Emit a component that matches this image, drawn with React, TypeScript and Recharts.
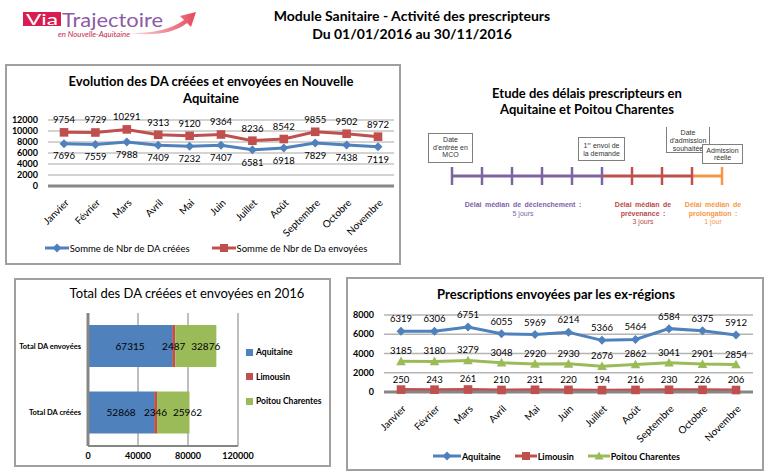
import React from 'react';
import { LineChart, Line, XAxis, YAxis, CartesianGrid, Legend, LabelList, BarChart, Bar } from 'recharts';

const FONT = 'Lato, "Open Sans", sans-serif';
const ARIAL = '"Liberation Sans", Arial, sans-serif';
const BLUE = '#4F81BD';
const RED = '#C0504D';
const GREEN = '#9BBB59';
const PURPLE = '#8064A2';
const ORANGE = '#F79646';

// ---------- data ----------
const months = ['Janvier', 'Février', 'Mars', 'Avril', 'Mai', 'Juin', 'Juillet', 'Août', 'Septembre', 'Octobre', 'Novembre'];
const daCreees = [7696, 7559, 7988, 7409, 7232, 7407, 6581, 6918, 7829, 7438, 7119];
const daEnvoyees = [9754, 9729, 10291, 9313, 9120, 9364, 8236, 8542, 9855, 9502, 8972];
const evolutionTicks = [0, 2000, 4000, 6000, 8000, 10000, 12000];

const totalCategories = ['Total DA envoyées', 'Total DA créées'];
const totalAquitaine = [67315, 52868];
const totalLimousin = [2487, 2346];
const totalPoitou = [32876, 25962];
const totalTicks = [0, 40000, 80000, 120000];

const prescAquitaine = [6319, 6306, 6751, 6055, 5969, 6214, 5366, 5464, 6584, 6375, 5912];
const prescLimousin = [250, 243, 261, 210, 231, 220, 194, 216, 230, 226, 206];
const prescPoitou = [3185, 3180, 3279, 3048, 2920, 2930, 2676, 2862, 3041, 2901, 2854];
const prescTicks = [0, 2000, 4000, 6000, 8000];

const phaseDays = [5, 3, 1]; // déclenchement, prévenance, prolongation

// ---------- tables ----------
const evolutionData = months.map((m, i) => ({ month: m, creees: daCreees[i], envoyees: daEnvoyees[i] }));
const totalData = totalCategories.map((c, i) => ({ cat: c, aquitaine: totalAquitaine[i], limousin: totalLimousin[i], poitou: totalPoitou[i] }));
const prescData = months.map((m, i) => ({ month: m, aquitaine: prescAquitaine[i], limousin: prescLimousin[i], poitou: prescPoitou[i] }));
const b1 = phaseDays[0];
const b2 = phaseDays[0] + phaseDays[1];
const b3 = b2 + phaseDays[2];
const timelineData = Array.from({ length: b3 + 1 }, (_, d) => ({
  day: d,
  p1: d <= b1 ? 1 : null,
  p2: d >= b1 && d <= b2 ? 1 : null,
  p3: d >= b2 ? 1 : null,
}));

// ---------- markers ----------
const Diamond = ({ cx, cy, fill, s = 4.5 }: any) =>
  cx == null ? null : <path d={`M${cx},${cy - s}L${cx + s},${cy}L${cx},${cy + s}L${cx - s},${cy}Z`} fill={fill} />;
const Square = ({ cx, cy, fill, s = 4.2 }: any) =>
  cx == null ? null : <rect x={cx - s} y={cy - s} width={2 * s} height={2 * s} fill={fill} />;
const Triangle = ({ cx, cy, fill, s = 4.5 }: any) =>
  cx == null ? null : <path d={`M${cx},${cy - s}L${cx + s},${cy + s * 0.8}L${cx - s},${cy + s * 0.8}Z`} fill={fill} />;

const LegendIcon = ({ color, shape, w = 24 }: any) => {
  const c = w / 2;
  return (
    <svg width={w} height={10} style={{ display: 'block' }}>
      <line x1={0} y1={5} x2={w} y2={5} stroke={color} strokeWidth={3} />
      {shape === 'diamond' && <Diamond cx={c} cy={5} fill={color} s={4.5} />}
      {shape === 'square' && <Square cx={c} cy={5} fill={color} s={4} />}
      {shape === 'triangle' && <Triangle cx={c} cy={5} fill={color} s={4.5} />}
    </svg>
  );
};

const AngledTick = ({ x, y, payload }: any) => (
  <g transform={`translate(${x + 3},${y + 7})`}>
    <text x={0} y={0} dy="0.35em" textAnchor="end" transform="rotate(-45)" fontSize={10} fill="#000" fontFamily={FONT}>
      {payload.value}
    </text>
  </g>
);

const CatTick = ({ x, y, payload }: any) => (
  <text x={x} y={y} dy="0.35em" textAnchor="end" fontSize={7.5} fontWeight={700} fill="#000" fontFamily={FONT}>
    {payload.value}
  </text>
);

const labelStyle = { fontSize: 9.5, fill: '#000', fontFamily: FONT };
const yTickStyle = { fontSize: 9, fontWeight: 700, fill: '#000', fontFamily: FONT };

const boxStyle = (l: number, t: number, w: number, h: number): React.CSSProperties => ({
  position: 'absolute', left: l, top: t, width: w, height: h,
  border: '2px solid #A0A0A0', boxSizing: 'border-box', pointerEvents: 'none',
});

const abs = (l: number, t: number): React.CSSProperties => ({ position: 'absolute', left: l, top: t });

function EvolutionChart() {
  const legend = () => (
    <div style={{ display: 'flex', justifyContent: 'center', alignItems: 'center', height: 20, fontFamily: FONT, fontSize: 9.5, color: '#000' }}>
      <LegendIcon color={BLUE} shape="diamond" />
      <span style={{ marginLeft: 1, marginRight: 22 }}>Somme de Nbr de DA créées</span>
      <LegendIcon color={RED} shape="square" />
      <span style={{ marginLeft: 1 }}>Somme de Nbr de Da envoyées</span>
    </div>
  );
  return (
    <div style={abs(6, 65)}>
      <LineChart width={394} height={199} data={evolutionData} margin={{ top: 55, right: 6, left: 12, bottom: 6 }}>
        <CartesianGrid vertical={false} stroke="#C4C4C4" strokeWidth={1.5} />
        <XAxis dataKey="month" interval={0} padding={{ left: 16, right: 16 }} tickLine={false} axisLine={{ stroke: '#868686', strokeWidth: 3 }} height={52} tick={<AngledTick />} />
        <YAxis domain={[0, 12000]} ticks={evolutionTicks} interval={0} width={30} tickLine={false} axisLine={false} tickSize={0} tickMargin={10} tick={yTickStyle} />
        <Legend verticalAlign="bottom" height={20} content={legend} />
        <Line dataKey="envoyees" stroke={RED} strokeWidth={3} isAnimationActive={false}
          dot={(p: any) => <Square key={`e${p.index}`} cx={p.cx} cy={p.cy} fill={RED} s={4.3} />}>
          <LabelList dataKey="envoyees" position="top" offset={9} {...labelStyle} />
        </Line>
        <Line dataKey="creees" stroke={BLUE} strokeWidth={3} isAnimationActive={false}
          dot={(p: any) => <Diamond key={`c${p.index}`} cx={p.cx} cy={p.cy} fill={BLUE} s={4.5} />}>
          <LabelList dataKey="creees" position="bottom" offset={9} {...labelStyle} />
        </Line>
      </LineChart>
    </div>
  );
}

function TotalChart() {
  const items = [
    { name: 'Aquitaine', color: BLUE },
    { name: 'Limousin', color: RED },
    { name: 'Poitou Charentes', color: GREEN },
  ];
  const legend = () => (
    <div style={{ width: 86, height: 81.5, paddingTop: 8, paddingLeft: 8, boxSizing: 'border-box', fontFamily: FONT, fontSize: 8.5, fontWeight: 700, color: '#000' }}>
      {items.map((it) => (
        <div key={it.name} style={{ height: 24.5, display: 'flex', alignItems: 'center' }}>
          <span style={{ width: 7, height: 7, background: it.color, display: 'inline-block', marginRight: 3 }} />
          <span>{it.name}</span>
        </div>
      ))}
    </div>
  );
  const inLabel = { fontSize: 10, fill: '#000', fontFamily: FONT };
  return (
    <div style={abs(15, 279)}>
      <BarChart layout="vertical" width={315} height={187} data={totalData} margin={{ top: 34, right: 6, left: 3, bottom: 0 }}>
        <CartesianGrid horizontal={false} stroke="#A8A8A8" strokeWidth={1.5} />
        <XAxis type="number" domain={[0, 120000]} ticks={totalTicks} interval={0} height={20} tickLine={false} axisLine={{ stroke: '#868686', strokeWidth: 2 }} tickSize={0} tickMargin={7} tick={yTickStyle} />
        <YAxis type="category" dataKey="cat" width={70} tickLine={false} axisLine={{ stroke: '#868686', strokeWidth: 3 }} tickSize={0} tickMargin={7} tick={<CatTick />} />
        <Legend layout="vertical" align="right" verticalAlign="middle" width={86} content={legend} />
        <Bar dataKey="aquitaine" stackId="a" fill={BLUE} barSize={42} isAnimationActive={false}>
          <LabelList dataKey="aquitaine" position="center" {...inLabel} />
        </Bar>
        <Bar dataKey="limousin" stackId="a" fill={RED} barSize={42} isAnimationActive={false}>
          <LabelList dataKey="limousin" position="center" {...inLabel} />
        </Bar>
        <Bar dataKey="poitou" stackId="a" fill={GREEN} barSize={42} isAnimationActive={false}>
          <LabelList dataKey="poitou" position="insideLeft" offset={16} {...inLabel} />
        </Bar>
      </BarChart>
    </div>
  );
}

function PrescChart() {
  const legend = () => (
    <div style={{ display: 'flex', justifyContent: 'center', alignItems: 'center', height: 16, fontFamily: FONT, fontSize: 9, fontWeight: 700, color: '#000', paddingLeft: 6 }}>
      <LegendIcon color={BLUE} shape="diamond" w={28} />
      <span style={{ marginLeft: 1, marginRight: 14 }}>Aquitaine</span>
      <LegendIcon color={RED} shape="square" w={22} />
      <span style={{ marginLeft: 1, marginRight: 14 }}>Limousin</span>
      <LegendIcon color={GREEN} shape="triangle" w={22} />
      <span style={{ marginLeft: 1 }}>Poitou Charentes</span>
    </div>
  );
  return (
    <div style={abs(347, 278)}>
      <LineChart width={416} height={192} data={prescData} margin={{ top: 37, right: 10, left: 7, bottom: 6 }}>
        <CartesianGrid vertical={false} stroke="#B4B4B4" strokeWidth={1.5} />
        <XAxis dataKey="month" interval={0} padding={{ left: 17, right: 17 }} tickLine={false} axisLine={{ stroke: '#868686', strokeWidth: 3 }} height={56} tick={<AngledTick />} />
        <YAxis domain={[0, 8000]} ticks={prescTicks} interval={0} width={30} tickLine={false} axisLine={false} tickSize={0} tickMargin={10} tick={yTickStyle} />
        <Legend verticalAlign="bottom" height={16} content={legend} />
        <Line dataKey="aquitaine" stroke={BLUE} strokeWidth={3} isAnimationActive={false}
          dot={(p: any) => <Diamond key={`a${p.index}`} cx={p.cx} cy={p.cy} fill={BLUE} s={4.5} />}>
          <LabelList dataKey="aquitaine" position="top" offset={9} {...labelStyle} />
        </Line>
        <Line dataKey="poitou" stroke={GREEN} strokeWidth={3} isAnimationActive={false}
          dot={(p: any) => <Triangle key={`p${p.index}`} cx={p.cx} cy={p.cy} fill={GREEN} s={4.8} />}>
          <LabelList dataKey="poitou" position="top" offset={7} {...labelStyle} />
        </Line>
        <Line dataKey="limousin" stroke={RED} strokeWidth={3} isAnimationActive={false}
          dot={(p: any) => <Square key={`l${p.index}`} cx={p.cx} cy={p.cy} fill={RED} s={4.3} />}>
          <LabelList dataKey="limousin" position="top" offset={7} {...labelStyle} />
        </Line>
      </LineChart>
    </div>
  );
}

function TimelineChart() {
  const tick = (color: string, from: number, to: number, id: string) => (p: any) => {
    const d = p.payload ? p.payload.day : -1;
    if (p.cx == null || d < from || d > to) return <g key={`${id}${p.index}`} />;
    return <line key={`${id}${p.index}`} x1={p.cx} x2={p.cx} y1={p.cy - 9} y2={p.cy + 9} stroke={color} strokeWidth={2.5} />;
  };
  return (
    <div style={abs(420, 150)}>
      <LineChart width={330} height={60} data={timelineData} margin={{ top: 6, right: 28, left: 32, bottom: 14 }}>
        <XAxis type="number" dataKey="day" domain={[0, b3]} hide />
        <YAxis domain={[0, 2]} hide />
        <Line dataKey="p1" stroke={PURPLE} strokeWidth={3} isAnimationActive={false} dot={tick(PURPLE, 0, b1, 'a')} />
        <Line dataKey="p2" stroke={RED} strokeWidth={3} isAnimationActive={false} dot={tick(RED, b1 + 1, b2, 'b')} />
        <Line dataKey="p3" stroke={ORANGE} strokeWidth={3} isAnimationActive={false} dot={tick(ORANGE, b2 + 1, b3, 'c')} />
      </LineChart>
    </div>
  );
}

const smallBox: React.CSSProperties = {
  position: 'absolute', boxSizing: 'border-box', border: '1.5px solid #7F7F7F', background: '#fff',
  fontFamily: ARIAL, fontSize: 7, color: '#333', textAlign: 'center', whiteSpace: 'nowrap',
};

function Logo() {
  return (
    <svg width={210} height={45} style={{ position: 'absolute', left: 0, top: 0 }}>
      <defs>
        <linearGradient id="arrowGrad" x1="0" x2="1" y1="0" y2="0">
          <stop offset="0" stopColor="#FBE6EA" />
          <stop offset="1" stopColor="#E5485C" />
        </linearGradient>
      </defs>
      <path d="M128,33 Q165,34 184,20 L180,16 L196,12 L191,27 L187,23 Q168,38 128,33 Z" fill="url(#arrowGrad)" />
      <rect x={23} y={12} width={38} height={14} fill="#D81B50" />
      <text x={26} y={25} fill="#fff" fontSize={15} fontFamily={FONT} textLength={32} lengthAdjust="spacingAndGlyphs">Via</text>
      <text x={62} y={26.5} fill="#8C5BA6" fontSize={20} fontFamily={FONT} textLength={101} lengthAdjust="spacingAndGlyphs">Trajectoire</text>
      <text x={58} y={37} fill="#C8294F" fontSize={7.5} fontStyle="italic" fontFamily={FONT} textLength={72} lengthAdjust="spacingAndGlyphs">en Nouvelle-Aquitaine</text>
    </svg>
  );
}

export default function App() {
  const phaseBold: React.CSSProperties = { fontWeight: 700, wordSpacing: 1.5 };
  return (
    <div style={{ position: 'absolute', left: 0, top: 0, width: 769, height: 475, background: '#fff', overflow: 'hidden', fontFamily: FONT }}>
      <Logo />
      <div style={{ ...abs(262, 7), width: 300, textAlign: 'center', fontWeight: 700, fontSize: 14, lineHeight: '18px', color: '#000' }}>
        Module Sanitaire - Activité des prescripteurs<br />Du 01/01/2016 au 30/11/2016
      </div>

      {/* top-left */}
      <EvolutionChart />
      <div style={{ ...abs(56, 72.5), width: 310, textAlign: 'center', fontWeight: 700, fontSize: 13, lineHeight: '17px', color: '#000' }}>
        Evolution des DA créées et envoyées en Nouvelle<br />Aquitaine
      </div>
      <div style={boxStyle(5, 64, 396, 201)} />

      {/* timeline */}
      <div style={{ ...abs(437, 85), width: 300, textAlign: 'center', fontWeight: 700, fontSize: 13, lineHeight: '16px', color: '#000' }}>
        Etude des délais prescripteurs en<br />Aquitaine et Poitou Charentes
      </div>
      <TimelineChart />
      <div style={{ ...smallBox, left: 428, top: 133, width: 45, height: 30, lineHeight: '7.5px', paddingTop: 2 }}>
        Date<br />d'entrée en<br />MCO
      </div>
      <div style={{ ...smallBox, left: 578, top: 137, width: 47, height: 24, lineHeight: '8px', paddingTop: 4 }}>
        1<sup style={{ fontSize: 4, verticalAlign: 'top', lineHeight: '4px' }}>er</sup> envoi de<br />la demande
      </div>
      <div style={{ ...smallBox, left: 666, top: 127, width: 44, height: 26, borderTop: 'none', lineHeight: '8px', paddingTop: 2, background: 'transparent' }}>
        Date<br />d'admission<br />souhaitée
      </div>
      <div style={{ ...smallBox, left: 702, top: 144, width: 41, height: 20, lineHeight: '7.5px', paddingTop: 1.5 }}>
        Admission<br />réelle
      </div>
      <div style={{ ...abs(463, 201), width: 120, textAlign: 'center', fontFamily: ARIAL, fontSize: 7, lineHeight: '8.5px', color: '#7F5FA9' }}>
        <span style={phaseBold}>Délai médian de déclenchement :</span><br />5 jours
      </div>
      <div style={{ ...abs(603, 201), width: 80, textAlign: 'center', fontFamily: ARIAL, fontSize: 7, lineHeight: '8.5px', color: '#B94A48' }}>
        <span style={phaseBold}>Délai médian de<br />prévenance :</span><br />3 jours
      </div>
      <div style={{ ...abs(673, 201), width: 80, textAlign: 'center', fontFamily: ARIAL, fontSize: 7, lineHeight: '8.5px', color: ORANGE }}>
        <span style={phaseBold}>Délai médian de<br />prolongation :</span><br />1 jour
      </div>

      {/* bottom-left */}
      <TotalChart />
      <div style={{ ...abs(37, 284), width: 300, textAlign: 'center', fontSize: 13, lineHeight: '18px', color: '#000' }}>
        Total des DA créées et envoyées en 2016
      </div>
      <div style={boxStyle(14, 278, 317, 189)} />

      {/* bottom-right */}
      <PrescChart />
      <div style={{ ...abs(406, 285), width: 300, textAlign: 'center', fontSize: 13, fontWeight: 700, lineHeight: '18px', color: '#000' }}>
        Prescriptions envoyées par les ex-régions
      </div>
      <div style={boxStyle(346, 277, 418, 194)} />
    </div>
  );
}
